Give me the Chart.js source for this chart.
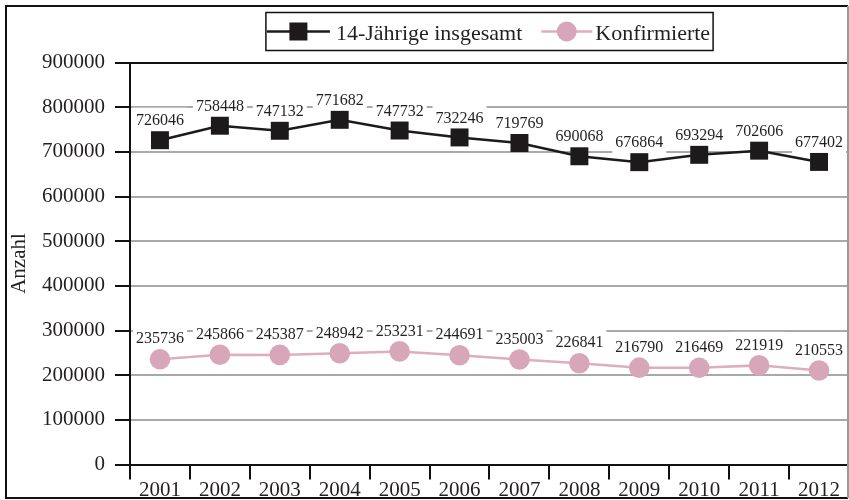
<!DOCTYPE html>
<html>
<head>
<meta charset="utf-8">
<script src="https://cdn.jsdelivr.net/npm/chart.js@4.4.1/dist/chart.umd.min.js"></script>
<style>
  html, body { margin: 0; padding: 0; background: #ffffff; }
  #wrap { width: 849px; height: 500px; position: relative; }
</style>
</head>
<body>
<div id="wrap"><canvas id="c" width="849" height="500"></canvas></div>
<script>
const categories = ['2001','2002','2003','2004','2005','2006','2007','2008','2009','2010','2011','2012'];
const seriesNames = ['14-Jährige insgesamt', 'Konfirmierte'];
const totalValues = [726046, 758448, 747132, 771682, 747732, 732246, 719769, 690068, 676864, 693294, 702606, 677402];
const confirmedValues = [235736, 245866, 245387, 248942, 253231, 244691, 235003, 226841, 216790, 216469, 221919, 210553];
const yAxisTitle = 'Anzahl';
const yMin = 0, yMax = 900000, yStep = 100000;

const FONT = "'Liberation Serif', 'DejaVu Serif', serif";
const TEXT = '#231f20';
const BLACK = '#1c1a1b';
const PINK_LINE = '#deadbf';
const PINK_FILL = '#d8a6b9';
const GRID = '#a9a9a9';

// data labels with white boxes
const labelPlugin = {
  id: 'valueLabels',
  beforeDatasetsDraw(chart) {
    const ctx = chart.ctx;
    ctx.save();
    ctx.font = '16px ' + FONT;
    ctx.textAlign = 'center';
    ctx.textBaseline = 'middle';
    chart.data.datasets.forEach((ds, di) => {
      const meta = chart.getDatasetMeta(di);
      const off = di === 0 ? 20 : 21;
      meta.data.forEach((pt, i) => {
        const txt = String(ds.data[i]);
        const w = ctx.measureText(txt).width + 6;
        const cx = pt.x, cy = pt.y - off;
        ctx.fillStyle = '#ffffff';
        ctx.fillRect(cx - w / 2, cy - 12.5, w, 25);
        ctx.fillStyle = TEXT;
        ctx.fillText(txt, cx, cy + 1);
      });
    });
    ctx.restore();
  }
};

// boxed legend with line+marker samples, and outer frame
const frameLegendPlugin = {
  id: 'frameLegend',
  afterDraw(chart) {
    const ctx = chart.ctx;
    const area = chart.chartArea;
    ctx.save();
    // outer frame
    ctx.lineWidth = 2;
    ctx.strokeStyle = '#111';
    ctx.beginPath();
    ctx.moveTo(848, 6); ctx.lineTo(6, 6); ctx.lineTo(6, 498); ctx.lineTo(848, 498);
    ctx.stroke();
    ctx.strokeStyle = '#9a9a9a';
    ctx.beginPath(); ctx.moveTo(848, 6); ctx.lineTo(848, 498); ctx.stroke();

    // legend
    ctx.font = '22px ' + FONT;
    const t1 = ctx.measureText(seriesNames[0]).width;
    const t2 = ctx.measureText(seriesNames[1]).width;
    const line1 = 63, line2 = 51;
    const total = 1 + line1 + 6 + t1 + 19 + line2 + 3 + t2 + 3;
    const left = (area.left + area.right) / 2 - total / 2;
    const top = 12.5, bottom = 50.5, my = 31.5;
    ctx.lineWidth = 1.5;
    ctx.strokeStyle = '#111';
    ctx.strokeRect(left, top, total, bottom - top);

    let x = left + 1;
    ctx.lineWidth = 2.5;
    ctx.strokeStyle = BLACK;
    ctx.beginPath(); ctx.moveTo(x, my); ctx.lineTo(x + line1, my); ctx.stroke();
    ctx.fillStyle = BLACK;
    ctx.fillRect(x + line1 / 2 - 9, my - 9, 18, 18);
    x += line1 + 6;
    ctx.fillStyle = TEXT;
    ctx.textAlign = 'left';
    ctx.textBaseline = 'alphabetic';
    ctx.fillText(seriesNames[0], x, my + 8);
    x += t1 + 19;
    ctx.strokeStyle = PINK_LINE;
    ctx.beginPath(); ctx.moveTo(x, my); ctx.lineTo(x + line2, my); ctx.stroke();
    ctx.fillStyle = PINK_FILL;
    ctx.beginPath(); ctx.arc(x + line2 / 2, my, 10, 0, Math.PI * 2); ctx.fill();
    x += line2 + 3;
    ctx.fillStyle = TEXT;
    ctx.fillText(seriesNames[1], x, my + 8);
    ctx.restore();
  }
};

new Chart(document.getElementById('c'), {
  type: 'line',
  data: {
    labels: categories,
    datasets: [
      {
        label: seriesNames[0],
        data: totalValues,
        borderColor: BLACK,
        borderWidth: 2.5,
        backgroundColor: BLACK,
        pointStyle: 'rect',
        pointRadius: 12.7,
        pointBorderWidth: 0,
        pointBackgroundColor: BLACK,
        tension: 0,
        clip: false
      },
      {
        label: seriesNames[1],
        data: confirmedValues,
        borderColor: PINK_LINE,
        borderWidth: 2.5,
        backgroundColor: PINK_FILL,
        pointStyle: 'circle',
        pointRadius: 10.3,
        pointBorderWidth: 0,
        pointBackgroundColor: PINK_FILL,
        tension: 0,
        clip: false
      }
    ]
  },
  options: {
    responsive: false,
    animation: false,
    devicePixelRatio: 1,
    layout: { autoPadding: false, padding: { top: 62.5, left: 0, right: 0, bottom: 0 } },
    plugins: { legend: { display: false }, tooltip: { enabled: false } },
    scales: {
      x: {
        offset: true,
        grid: { offset: true, drawOnChartArea: false, drawTicks: true, tickLength: 15, color: '#111', lineWidth: 2 },
        border: { display: true, color: '#111', width: 2 },
        ticks: { font: { family: FONT, size: 21 }, color: TEXT, padding: -2, maxRotation: 0, autoSkip: false },
        afterFit(s) { s.height = 35.5; s.paddingLeft = 0; s.paddingRight = 0; }
      },
      y: {
        min: yMin,
        max: yMax,
        ticks: { stepSize: yStep, font: { family: FONT, size: 21 }, color: TEXT, padding: 10, callback: v => String(v) },
        grid: {
          color: c => (c.tick && c.tick.value === yMax) ? '#111' : GRID,
          lineWidth: 2,
          tickLength: 15,
          tickColor: '#111',
          drawTicks: true
        },
        border: { display: true, color: '#111', width: 2 },
        title: { display: true, text: yAxisTitle, font: { family: FONT, size: 21 }, color: TEXT, padding: { top: 7, bottom: 0 } },
        afterFit(s) { s.width = 130; s.paddingTop = 0; s.paddingBottom = 0; }
      }
    }
  },
  plugins: [labelPlugin, frameLegendPlugin]
});
</script>
</body>
</html>
